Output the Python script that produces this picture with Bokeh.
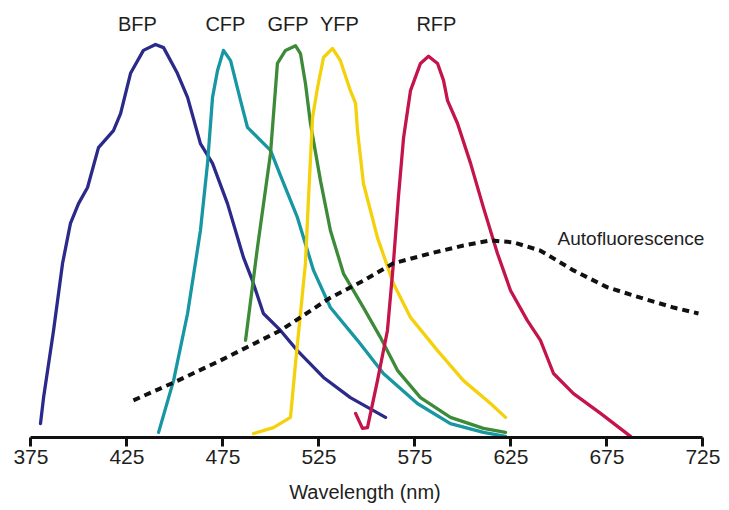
from bokeh.plotting import figure
from bokeh.models import Range1d, FixedTicker
from bokeh.core.properties import value
from bokeh.embed import file_html
from bokeh.resources import INLINE

# ---- data (wavelength in nm, relative intensity in %) ----
bfp_nm = [380.0, 381.6, 386.8, 391.5, 395.6, 399.8, 404.5, 410.2, 418.0, 421.7, 426.9, 433.6,
          439.9, 444.1, 451.3, 456.6, 463.3, 469.6, 477.4, 485.7, 490.4, 496.1, 505.0, 513.8,
          527.4, 541.4, 559.7]
bfp_int = [3.5, 10.1, 27.1, 44.1, 54.2, 59.2, 63.3, 73.4, 77.7, 82.0, 92.2, 98.0,
           99.5, 98.7, 92.2, 86.1, 74.4, 69.4, 59.2, 45.6, 39.7, 31.4, 27.1, 22.0,
           15.2, 10.1, 5.1]

cfp_nm = [441.5, 449.3, 456.6, 463.3, 467.0, 469.6, 472.2, 475.3, 479.0, 484.2, 487.8, 499.8,
          505.0, 513.8, 522.2, 531.0, 545.1, 558.6, 576.3, 593.5, 610.7, 622.2]
cfp_int = [1.3, 14.4, 31.4, 52.4, 69.4, 86.1, 92.9, 98.0, 95.4, 85.3, 78.5, 72.7,
           66.3, 55.7, 42.3, 32.9, 24.6, 16.2, 8.6, 3.5, 1.3, 0.3]

gfp_nm = [486.8, 493.0, 499.8, 503.4, 507.6, 512.8, 515.4, 518.0, 520.6, 525.8, 531.0, 537.8,
          548.2, 557.1, 565.9, 577.9, 593.5, 610.7, 622.2]
gfp_int = [24.6, 48.1, 71.9, 94.7, 98.0, 99.2, 97.2, 89.6, 79.5, 65.1, 52.4, 41.5,
           32.9, 25.3, 17.0, 10.1, 5.1, 2.3, 1.3]

yfp_nm = [490.9, 501.3, 510.2, 512.8, 515.4, 518.0, 519.6, 521.7, 524.3, 527.4, 532.1, 536.2,
          541.4, 544.1, 545.1, 548.2, 555.5, 563.8, 572.7, 586.8, 600.3, 614.4, 622.2]
yfp_int = [1.0, 2.5, 5.1, 18.7, 31.4, 44.1, 60.8, 81.0, 88.6, 96.2, 98.5, 95.4,
           87.8, 84.6, 77.7, 64.3, 50.6, 39.0, 30.4, 22.0, 14.4, 8.6, 5.1]

rfp_nm = [544.1, 547.7, 550.3, 555.5, 560.7, 563.8, 566.4, 569.1, 572.7, 577.9, 582.1, 586.8,
          589.9, 592.0, 597.2, 604.0, 610.7, 618.0, 624.8, 633.6, 640.4, 647.2, 657.6, 671.7,
          687.3]
rfp_int = [6.1, 2.3, 2.5, 14.4, 27.1, 44.1, 60.8, 75.9, 87.8, 94.7, 96.5, 94.7,
           90.4, 85.3, 79.5, 69.4, 58.2, 46.6, 37.2, 29.6, 24.6, 16.2, 11.1, 6.1,
           0.3]

auto_nm = [428.4, 449.3, 473.7, 505.0, 531.0, 548.2, 563.8, 583.1, 600.3, 614.4, 626.3, 640.4,
           657.6, 675.3, 692.5, 709.7, 722.7]
auto_int = [9.4, 13.9, 19.5, 27.1, 35.4, 39.7, 44.1, 46.6, 48.6, 49.9, 49.4, 47.3,
            42.3, 38.0, 35.4, 32.9, 31.4]

series_names = ["BFP", "CFP", "GFP", "YFP", "RFP"]
auto_name = "Autofluorescence"
tick_values = [375, 425, 475, 525, 575, 625, 675, 725]
x_label = "Wavelength (nm)"

# ---- styling / positions ----
colors = ["#2b2a8a", "#1796a4", "#3d8a39", "#f4d10a", "#c3154b"]
label_x = [430.5, 476.3, 508.9, 535.7, 586.2]
label_y = 104.8
auto_label_x = 649.3
auto_label_y = 50.4
FONT = "Liberation Sans"

p = figure(width=729, height=510, output_backend="svg", toolbar_location=None,
           x_range=Range1d(359.17, 738.85), y_range=Range1d(0, 110.63),
           min_border_left=0, min_border_right=0, min_border_top=0, min_border_bottom=73,
           title=None)
p.outline_line_color = None
p.grid.visible = False
p.yaxis.visible = False
p.background_fill_color = "white"
p.border_fill_color = "white"

xs = [bfp_nm, cfp_nm, gfp_nm, yfp_nm, rfp_nm]
ys = [bfp_int, cfp_int, gfp_int, yfp_int, rfp_int]
for x, y, c in zip(xs, ys, colors):
    p.line(x, y, line_color=c, line_width=3.3, line_join="round", line_cap="round")

p.line(auto_nm, auto_int, line_color="#111111", line_width=4, line_dash="7 5")

p.text(x=label_x, y=[label_y] * len(label_x), text=series_names,
       text_align="center", text_baseline="middle", text_font=value(FONT),
       text_font_size="20px", text_color="#1e1e1e")
p.text(x=[auto_label_x], y=[auto_label_y], text=[auto_name],
       text_align="left", text_baseline="middle", text_font=value(FONT),
       text_font_size="19px", text_color="#1e1e1e")

ax = p.xaxis[0]
ax.ticker = FixedTicker(ticks=tick_values)
ax.bounds = (375, 725)
ax.axis_line_width = 3
ax.axis_line_color = "#111111"
ax.major_tick_line_width = 3
ax.major_tick_line_color = "#111111"
ax.major_tick_in = 0
ax.major_tick_out = 9
ax.minor_tick_line_color = None
ax.major_label_standoff = 3
ax.major_label_text_font = FONT
ax.major_label_text_font_size = "21px"
ax.major_label_text_color = "#1e1e1e"
ax.axis_label = x_label
ax.axis_label_text_font = FONT
ax.axis_label_text_font_size = "20px"
ax.axis_label_text_font_style = "normal"
ax.axis_label_text_color = "#1e1e1e"
ax.axis_label_standoff = 14

open("out.html", "w").write(file_html(p, INLINE))
